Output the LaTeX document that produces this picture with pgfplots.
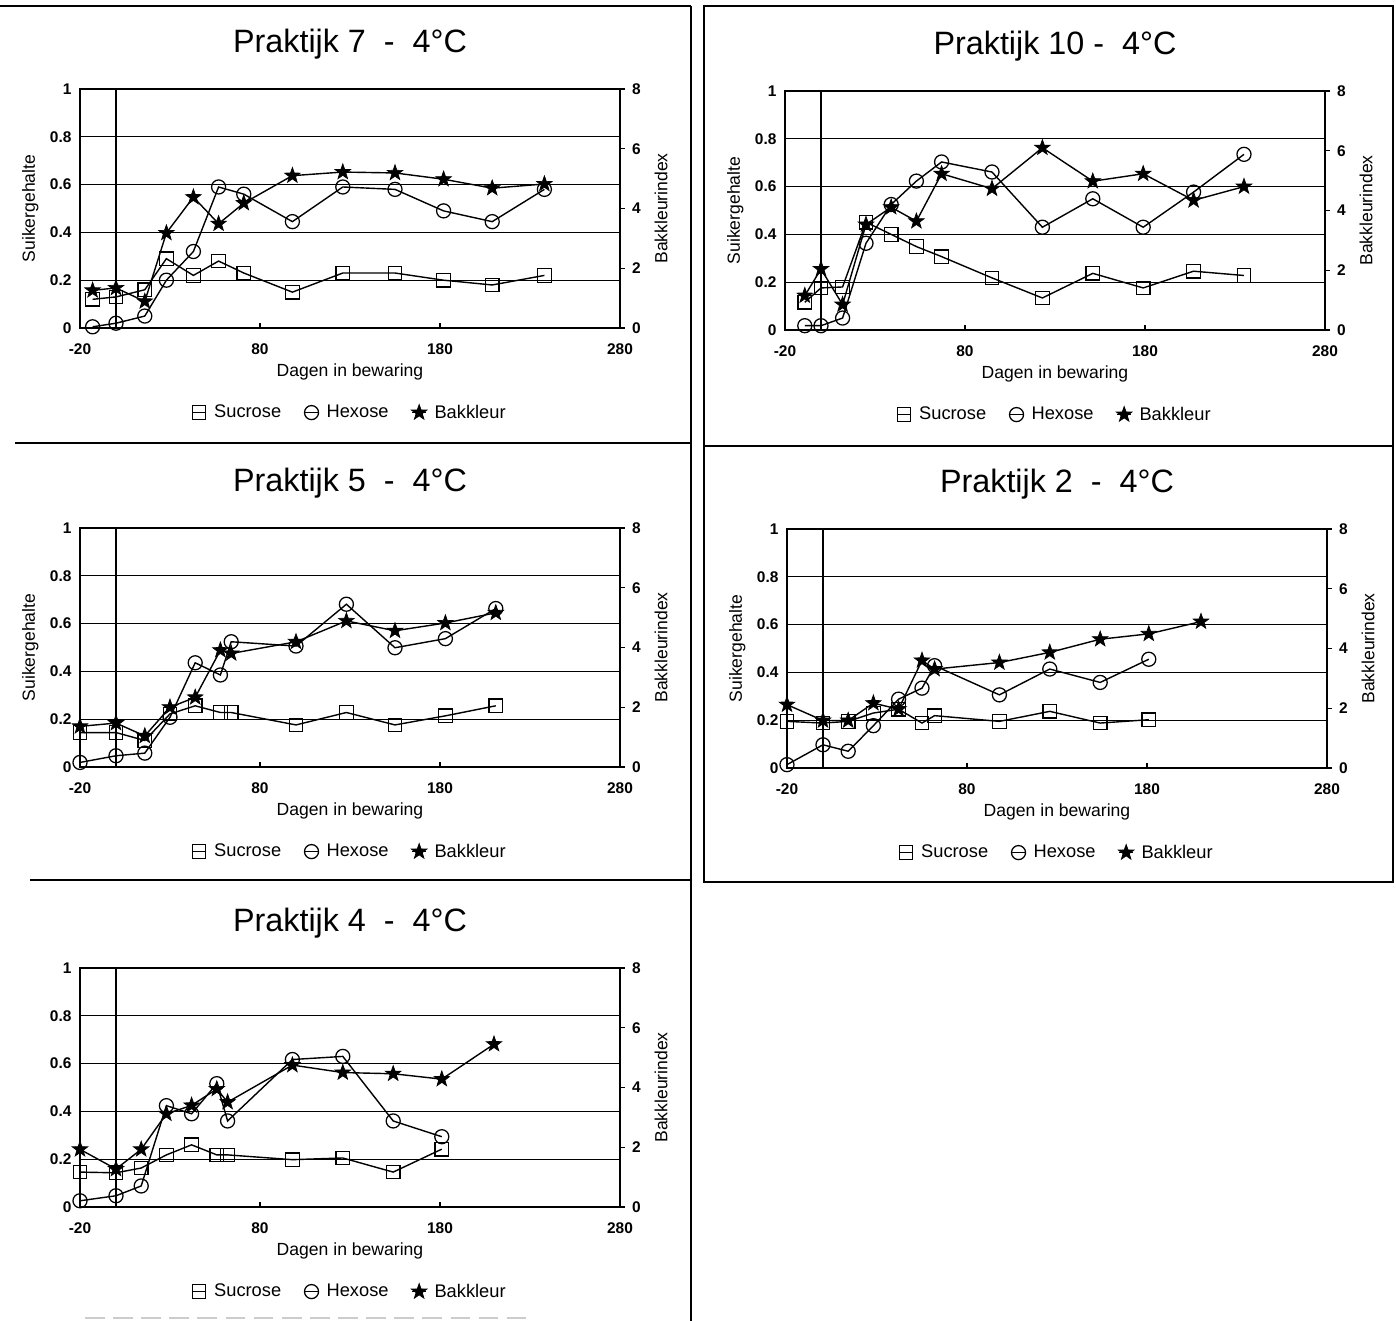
\documentclass[border=0pt]{standalone}
\usepackage{fontspec}
\setmainfont{Liberation Sans}
\usepackage{pgfplots}
\usepackage{pgfplotstable}
\pgfplotsset{compat=1.18}

\pgfdeclareplotmark{fstar}{%
 \pgfpathmoveto{\pgfqpoint{0pt}{\pgfplotmarksize}}%
 \pgfpathlineto{\pgfqpoint{-0.235\pgfplotmarksize}{0.324\pgfplotmarksize}}%
 \pgfpathlineto{\pgfqpoint{-0.951\pgfplotmarksize}{0.309\pgfplotmarksize}}%
 \pgfpathlineto{\pgfqpoint{-0.380\pgfplotmarksize}{-0.124\pgfplotmarksize}}%
 \pgfpathlineto{\pgfqpoint{-0.588\pgfplotmarksize}{-0.809\pgfplotmarksize}}%
 \pgfpathlineto{\pgfqpoint{0pt}{-0.4\pgfplotmarksize}}%
 \pgfpathlineto{\pgfqpoint{0.588\pgfplotmarksize}{-0.809\pgfplotmarksize}}%
 \pgfpathlineto{\pgfqpoint{0.380\pgfplotmarksize}{-0.124\pgfplotmarksize}}%
 \pgfpathlineto{\pgfqpoint{0.951\pgfplotmarksize}{0.309\pgfplotmarksize}}%
 \pgfpathlineto{\pgfqpoint{0.235\pgfplotmarksize}{0.324\pgfplotmarksize}}%
 \pgfpathclose
 \pgfusepathqfillstroke}

\newcommand{\tickfont}{\fontsize{11}{13}\selectfont\bfseries}
\newcommand{\labfont}{\fontsize{12.5}{15}\selectfont}
\newcommand{\legfont}{\fontsize{13}{15}\selectfont}
\newcommand{\titfont}{\fontsize{23}{27}\selectfont}

\pgfplotsset{
 sucplot/.style={black, line width=1pt, mark=square, mark size=4.8pt, mark options={solid, line width=0.9pt}},
 hexplot/.style={black, line width=1pt, mark=o, mark size=5pt, mark options={solid, line width=0.9pt}},
 bakplot/.style={black, line width=1pt, mark=fstar, mark size=5.8pt, mark options={solid, fill=black, line width=0.5pt}},
 legend image code/.code={\draw[mark repeat=2, mark phase=2, #1] plot coordinates {(0mm,0mm) (1.7mm,0mm) (3.4mm,0mm)};},
 base/.style={
  scale only axis, width=135mm, height=59.75mm, anchor=south west,
  xmin=-20, xmax=280, ymin=0, ymax=1,
  xtick={-20,80,180,280}, xticklabels={-20,80,180,280},
  ytick={0,0.2,0.4,0.6,0.8,1}, yticklabels={0,0.2,0.4,0.6,0.8,1},
  ymajorgrids, grid style={black, line width=0.7pt},
  axis line style={line width=1pt},
  tick align=inside, xtick pos=bottom, ytick pos=left,
  major tick length=1.2mm, tick style={black, line width=0.8pt},
  ytick style={draw=none},
  ticklabel style={font=\tickfont},
  xticklabel style={yshift=-2.6mm},
  yticklabel style={xshift=-0.9mm},
  xlabel={Dagen in bewaring},
  x label style={at={(axis description cs:0.5,-0.186)}, anchor=center, font=\labfont},
  y label style={at={(axis description cs:-0.092,0.5)}, anchor=center, font=\labfont},
  title style={at={(axis description cs:0.5,1.153)}, anchor=center, font=\titfont},
  clip=false,
 },
 rightax/.style={
  scale only axis, width=135mm, height=59.75mm, anchor=south west,
  xmin=-20, xmax=280, ymin=0, ymax=8,
  axis x line=none, axis y line*=right,
  axis line style={line width=1pt},
  ytick={0,2,4,6,8}, yticklabels={0,2,4,6,8},
  tick align=outside, major tick length=1.2mm, tick style={black, line width=0.8pt},
  ticklabel style={font=\tickfont},
  yticklabel style={xshift=0.6mm},
  ylabel={Bakkleurindex},
  y label style={at={(axis description cs:1.076,0.5)}, anchor=center, font=\labfont},
  legend style={at={(axis description cs:0.5,-0.354)}, anchor=center, draw=none, fill=none,
   legend columns=3, font=\legfont, inner sep=0pt,
   /tikz/every odd column/.append style={column sep=1.2mm},
   /tikz/every even column/.append style={column sep=5mm}},
  clip=false,
 },
}

\newcommand{\panel}[5]{%
 \begin{axis}[base, at={(#1*0.25mm,-#2*0.25mm)}, title={#3}, ylabel={#5}]
  \draw[black, line width=1pt] (axis cs:0,0) -- (axis cs:0,1);
  \addplot[sucplot] table[x=day,y=suc]{#4};
  \addplot[hexplot] table[x=day,y=hex]{#4};
 \end{axis}
 \begin{axis}[rightax, at={(#1*0.25mm,-#2*0.25mm)}]
  \addlegendimage{sucplot}\addlegendentry{Sucrose}
  \addlegendimage{hexplot}\addlegendentry{Hexose}
  \addplot[bakplot] table[x=day,y=bak]{#4};\addlegendentry{Bakkleur}
 \end{axis}}

\pgfplotstableread{
day suc hex bak
-13 0.12 0.005 1.26
0 0.13 0.02 1.34
16 0.16 0.05 0.89
28 0.29 0.20 3.18
43 0.22 0.32 4.38
57 0.28 0.59 3.49
71 0.23 0.56 4.18
98 0.15 0.445 5.10
126 0.23 0.59 5.22
155 0.23 0.58 5.19
182 0.20 0.49 4.98
209 0.18 0.445 4.68
238 0.22 0.58 4.82
}\tabA

\pgfplotstableread{
day suc hex bak
-9 0.116 0.018 1.15
0 0.176 0.018 2.04
12 0.18 0.05 0.85
25 0.451 0.363 3.53
39 0.40 0.525 4.11
53 0.349 0.623 3.64
67 0.307 0.703 5.23
95 0.218 0.661 4.73
123 0.134 0.43 6.1
151 0.237 0.549 4.98
179 0.176 0.43 5.23
207 0.246 0.577 4.34
235 0.228 0.735 4.8
}\tabB

\pgfplotstableread{
day suc hex bak
-20 0.144 0.019 1.36
0 0.144 0.047 1.47
16 0.111 0.058 1.04
30 0.222 0.208 2.0
44 0.256 0.436 2.33
58 0.228 0.385 3.91
64 0.228 0.524 3.8
100 0.176 0.506 4.19
128 0.228 0.681 4.89
155 0.176 0.499 4.56
183 0.214 0.537 4.82
211 0.256 0.663 5.16
}\tabC

\pgfplotstableread{
day suc hex bak
-20 0.195 0.014 2.12
0 0.188 0.097 1.59
14 0.195 0.07 1.59
28 0.23 0.177 2.17
42 0.246 0.288 1.97
55 0.188 0.334 3.6
62 0.219 0.428 3.31
98 0.195 0.306 3.53
126 0.237 0.414 3.87
154 0.188 0.358 4.31
181 0.202 0.455 4.49
210 nan nan 4.9
}\tabD

\pgfplotstableread{
day suc hex bak
-20 0.146 0.026 1.93
0 0.143 0.047 1.27
14 0.163 0.088 1.93
28 0.218 0.424 3.12
42 0.26 0.39 3.40
56 0.218 0.516 3.95
62 0.218 0.36 3.51
98 0.198 0.617 4.75
126 0.205 0.630 4.5
154 0.146 0.36 4.46
181 0.242 0.294 4.28
210 nan nan 5.45
}\tabE

\begin{document}
\begin{tikzpicture}
\useasboundingbox (0,0) rectangle (349mm,-330.25mm);
\begin{scope}[x=0.25mm,y=-0.25mm, line width=1pt]
 \draw (0,6) -- (691,6);
 \draw (691,6) -- (691,1321);
 \draw (15,443) -- (691,443);
 \draw (30,880) -- (691,880);
 \draw (704,6) rectangle (1393,882);
 \draw (704,446) -- (1393,446);
 \draw[gray!40, line width=1.5pt, dash pattern=on 14 off 6] (85,1318) -- (533,1318);
\end{scope}
\panel{80}{328}{Praktijk 7~~-~~4°C}{\tabA}{Suikergehalte}
\panel{785}{330}{Praktijk 10~-~~4°C}{\tabB}{Suikergehalte}
\panel{80}{767}{Praktijk 5~~-~~4°C}{\tabC}{Suikergehalte}
\panel{787}{768}{Praktijk 2~~-~~4°C}{\tabD}{Suikergehalte}
\panel{80}{1207}{Praktijk 4~~-~~4°C}{\tabE}{}
\end{tikzpicture}
\end{document}
